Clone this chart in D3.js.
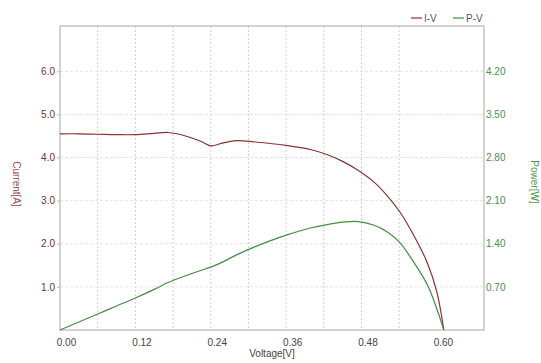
<!DOCTYPE html>
<html>
<head>
<meta charset="utf-8">
<script src="https://cdn.jsdelivr.net/npm/d3@7"></script>
<style>
  body { margin: 0; background: #fff; }
  svg text { font-family: Arial, "Liberation Sans", sans-serif; }
</style>
</head>
<body>
<div id="chart"></div>
<script>
// values
var voltage = [0, 0.03, 0.06, 0.09, 0.12, 0.15, 0.172, 0.20, 0.225, 0.24, 0.26, 0.281, 0.31,
               0.36, 0.40, 0.425, 0.45, 0.475, 0.50, 0.52, 0.54, 0.56, 0.585, 0.60, 0.611];
var current = [4.55, 4.55, 4.54, 4.53, 4.53, 4.56, 4.58, 4.50, 4.37, 4.27, 4.34, 4.39, 4.36,
               4.28, 4.18, 4.07, 3.91, 3.70, 3.43, 3.13, 2.76, 2.28, 1.55, 0.88, 0];
var power   = [0, 0.13, 0.26, 0.39, 0.52, 0.66, 0.77, 0.88, 0.97, 1.02, 1.11, 1.22, 1.35,
               1.54, 1.66, 1.71, 1.75, 1.76, 1.70, 1.60, 1.43, 1.15, 0.73, 0.34, 0];
var xTicks = [0, 0.12, 0.24, 0.36, 0.48, 0.60];
var xGrid = [0.06, 0.12, 0.18, 0.24, 0.30, 0.36, 0.42, 0.48, 0.54];
var yTicks = [1, 2, 3, 4, 5, 6];
var pTicks = [0.7, 1.4, 2.1, 2.8, 3.5, 4.2];

var W = 541, H = 363;
var margin = {top: 26, right: 57, bottom: 33, left: 60},
    width = W - margin.left - margin.right,
    height = H - margin.top - margin.bottom;

var red = "#8b3232", green = "#3f8f3f";

var svg = d3.select("#chart")
  .append("svg")
    .attr("width", W)
    .attr("height", H)
  .append("g")
    .attr("transform", "translate(" + margin.left + "," + margin.top + ")");

var x = d3.scaleLinear().domain([0, 0.675]).range([0, width]);
var y = d3.scaleLinear().domain([0, 7.05]).range([height, 0]);
var y2 = d3.scaleLinear().domain([0, 7.05 * 0.7]).range([height, 0]);

// grid
svg.append("g").selectAll("line")
  .data(xGrid).enter().append("line")
    .attr("x1", d => x(d)).attr("x2", d => x(d))
    .attr("y1", 0).attr("y2", height)
    .attr("stroke", "#cfcfcf").attr("stroke-dasharray", "2,2");
svg.append("g").selectAll("line")
  .data(yTicks).enter().append("line")
    .attr("x1", 0).attr("x2", width)
    .attr("y1", d => y(d)).attr("y2", d => y(d))
    .attr("stroke", "#e4e4e4").attr("stroke-dasharray", "3,2");

// frame
svg.append("rect")
  .attr("width", width).attr("height", height)
  .attr("fill", "none").attr("stroke", "#a8a8a8");

// x axis
var xAxis = svg.append("g")
  .attr("transform", "translate(0," + height + ")")
  .call(d3.axisBottom(x).tickValues(xTicks).tickFormat(d3.format(".2f")).tickSize(0).tickPadding(9));
xAxis.select(".domain").remove();
xAxis.selectAll("text").attr("dx", 6).style("font-size", "10px").attr("fill", "#444");

// left axis
var yAxis = svg.append("g")
  .call(d3.axisLeft(y).tickValues(yTicks).tickFormat(d3.format(".1f")).tickSize(3).tickPadding(2));
yAxis.select(".domain").remove();
yAxis.selectAll("line").attr("stroke", "#bbb");
yAxis.selectAll("text").style("font-size", "10px").attr("fill", "#6e3333");

// right axis
var pAxis = svg.append("g")
  .attr("transform", "translate(" + width + ",0)")
  .call(d3.axisRight(y2).tickValues(pTicks).tickFormat(d3.format(".2f")).tickSize(0).tickPadding(2));
pAxis.select(".domain").remove();
pAxis.selectAll("text").style("font-size", "10px").attr("fill", "#4a8f4a");

// lines
var rows = voltage.map((v, i) => ({v: v, i: current[i], p: power[i]}));

svg.append("path")
  .datum(rows)
  .attr("fill", "none")
  .attr("stroke", red)
  .attr("stroke-width", 1.2)
  .attr("d", d3.line().x(d => x(d.v)).y(d => y(d.i)).curve(d3.curveCatmullRom.alpha(0.5)));

svg.append("path")
  .datum(rows)
  .attr("fill", "none")
  .attr("stroke", green)
  .attr("stroke-width", 1.2)
  .attr("d", d3.line().x(d => x(d.v)).y(d => y2(d.p)).curve(d3.curveCatmullRom.alpha(0.5)));

// axis titles
svg.append("text")
  .attr("transform", "translate(" + (13 - margin.left) + "," + (184 - margin.top) + ") rotate(90)")
  .attr("text-anchor", "middle")
  .style("font-size", "10px")
  .attr("fill", "#9a4a4a")
  .text("Current[A]");

svg.append("text")
  .attr("transform", "translate(" + (531 - margin.left) + "," + (182 - margin.top) + ") rotate(90)")
  .attr("text-anchor", "middle")
  .style("font-size", "10px")
  .attr("fill", "#4a9a4a")
  .text("Power[W]");

svg.append("text")
  .attr("x", 272 - margin.left)
  .attr("y", 357 - margin.top)
  .attr("text-anchor", "middle")
  .style("font-size", "10px")
  .attr("fill", "#444")
  .text("Voltage[V]");

// legend
var legend = [{name: "I-V", color: red, x: 411}, {name: "P-V", color: green, x: 453}];
legend.forEach(function (l) {
  svg.append("line")
    .attr("x1", l.x - margin.left).attr("x2", l.x + 11 - margin.left)
    .attr("y1", 18 - margin.top).attr("y2", 18 - margin.top)
    .attr("stroke", l.color).attr("stroke-width", 1.2);
  svg.append("text")
    .attr("x", l.x + 13 - margin.left).attr("y", 18 - margin.top)
    .attr("dy", "0.35em")
    .style("font-size", "10px")
    .attr("fill", "#555")
    .text(l.name);
});
</script>
</body>
</html>
